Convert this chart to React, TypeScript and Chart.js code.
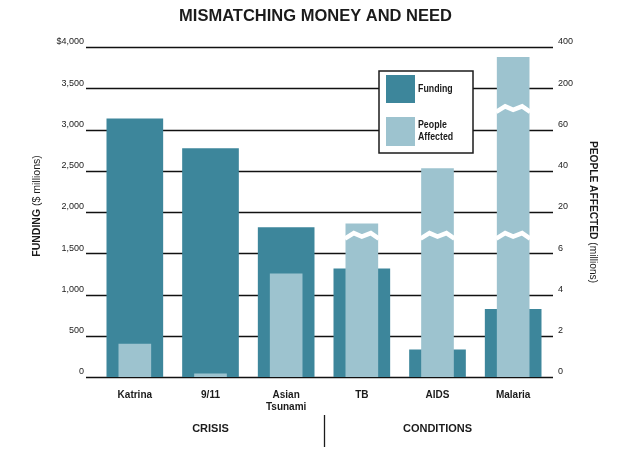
import React, { useEffect, useRef } from "react";
import { Chart, registerables } from "chart.js";

Chart.register(...registerables);

const TITLE = "MISMATCHING MONEY AND NEED";
const CATEGORIES: (string | string[])[] = ["Katrina", "9/11", ["Asian", "Tsunami"], "TB", "AIDS", "Malaria"];
const FUNDING = [3130, 2770, 1810, 1310, 330, 820]; // $ millions
const PEOPLE = [1.6, 0.15, 5, 16, 41, 350]; // millions
const PEOPLE_TICKS = [0, 2, 4, 6, 20, 40, 60, 200, 400]; // broken right axis
const BREAKS: number[][] = [[], [], [], [12], [12], [12, 130]]; // axis-break marks (millions)
const GROUPS = [
  { label: "CRISIS", at: 1 },
  { label: "CONDITIONS", at: 4 },
];
const GROUP_DIVIDER = 2.5;

const DARK = "#3d869b";
const LIGHT = "#9dc3cf";
const INK = "#1b1b1b";
const SANS = "'Liberation Sans', Arial, sans-serif";

// position on the broken (piecewise linear) right axis
function toPos(v: number): number {
  for (let i = 0; i < PEOPLE_TICKS.length - 1; i++) {
    const a = PEOPLE_TICKS[i];
    const b = PEOPLE_TICKS[i + 1];
    if (v <= b) return i + (v - a) / (b - a);
  }
  return PEOPLE_TICKS.length - 1;
}

const decorPlugin = {
  id: "decor",
  beforeDatasetsDraw(chart: any) {
    const { ctx, chartArea, scales } = chart;
    const y = scales.y;
    ctx.save();
    ctx.strokeStyle = "#111";
    ctx.lineWidth = 1.3;
    for (let v = 0; v <= 4000; v += 500) {
      const py = Math.round(y.getPixelForValue(v)) + 0.5;
      ctx.beginPath();
      ctx.moveTo(chartArea.left - 11, py);
      ctx.lineTo(chartArea.right + 2, py);
      ctx.stroke();
    }
    ctx.restore();
  },
  afterDatasetsDraw(chart: any) {
    const { ctx, chartArea, scales } = chart;
    const y2 = scales.y2;
    const x = scales.x;
    const lightMeta = chart.getDatasetMeta(1);
    ctx.save();
    // break marks
    ctx.strokeStyle = "#ffffff";
    ctx.lineWidth = 4.5;
    ctx.lineJoin = "miter";
    BREAKS.forEach((list, i) => {
      const bar = lightMeta.data[i];
      if (!bar) return;
      const w = bar.width;
      const x0 = bar.x - w / 2;
      list.forEach((b) => {
        const py = y2.getPixelForValue(toPos(b));
        ctx.beginPath();
        ctx.moveTo(x0 - 1, py + 3);
        ctx.lineTo(x0 + w * 0.25, py - 2.5);
        ctx.lineTo(x0 + w * 0.5, py + 1);
        ctx.lineTo(x0 + w * 0.78, py - 2.5);
        ctx.lineTo(x0 + w + 1, py + 3);
        ctx.stroke();
      });
    });
    ctx.restore();

    // legend
    ctx.save();
    const lx = 371, ly = 63, lw = 94, lh = 82;
    ctx.fillStyle = "#fff";
    ctx.fillRect(lx, ly, lw, lh);
    ctx.strokeStyle = INK;
    ctx.lineWidth = 1.5;
    ctx.strokeRect(lx, ly, lw, lh);
    ctx.fillStyle = DARK;
    ctx.fillRect(lx + 7, ly + 4, 29, 28);
    ctx.fillStyle = LIGHT;
    ctx.fillRect(lx + 7, ly + 46, 29, 29);
    ctx.fillStyle = INK;
    ctx.font = `bold 11px ${SANS}`;
    ctx.textBaseline = "middle";
    ctx.textAlign = "left";
    const narrowText = (t: string, tx: number, ty: number) => {
      ctx.save();
      ctx.translate(tx, ty);
      ctx.scale(0.8, 1);
      ctx.fillText(t, 0, 0);
      ctx.restore();
    };
    narrowText(chart.data.datasets[0].label, lx + 39, ly + 18);
    narrowText("People", lx + 39, ly + 54);
    narrowText("Affected", lx + 39, ly + 66);
    ctx.restore();

    // axis titles
    ctx.save();
    ctx.fillStyle = INK;
    ctx.textBaseline = "middle";
    const midY = (chartArea.top + chartArea.bottom) / 2;
    const drawMixed = (cx: number, cy: number, rot: number, bold: string, reg: string, size: number) => {
      ctx.save();
      ctx.translate(cx, cy);
      ctx.rotate(rot);
      ctx.font = `bold ${size}px ${SANS}`;
      const w1 = ctx.measureText(bold).width;
      ctx.font = `${size}px ${SANS}`;
      const w2 = ctx.measureText(reg).width;
      const start = -(w1 + w2) / 2;
      ctx.textAlign = "left";
      ctx.font = `bold ${size}px ${SANS}`;
      ctx.fillText(bold, start, 0);
      ctx.font = `${size}px ${SANS}`;
      ctx.fillText(reg, start + w1, 0);
      ctx.restore();
    };
    drawMixed(29, midY - 6, -Math.PI / 2, "FUNDING", " ($ millions)", 10.5);
    drawMixed(585, midY, Math.PI / 2, "PEOPLE AFFECTED", " (millions)", 10.2);

    // group labels & divider
    ctx.font = `bold 11px ${SANS}`;
    ctx.textAlign = "center";
    GROUPS.forEach((g) => {
      ctx.fillText(g.label, x.getPixelForValue(g.at), 421);
    });
    const dx = Math.round(x.getPixelForValue(GROUP_DIVIDER)) + 0.5;
    ctx.strokeStyle = INK;
    ctx.lineWidth = 1.3;
    ctx.beginPath();
    ctx.moveTo(dx, 407);
    ctx.lineTo(dx, 439);
    ctx.stroke();
    ctx.restore();
  },
};

export default function App() {
  const ref = useRef<HTMLCanvasElement | null>(null);
  useEffect(() => {
    if (!ref.current) return;
    const chart = new Chart(ref.current, {
      type: "bar",
      data: {
        labels: CATEGORIES as any,
        datasets: [
          {
            label: "Funding",
            data: FUNDING,
            backgroundColor: DARK,
            yAxisID: "y",
            barThickness: 56,
            grouped: false,
            order: 1,
          } as any,
          {
            label: "People Affected",
            data: PEOPLE.map(toPos),
            backgroundColor: LIGHT,
            yAxisID: "y2",
            barThickness: 32,
            grouped: false,
            order: 0,
          } as any,
        ],
      },
      options: {
        animation: false,
        responsive: true,
        maintainAspectRatio: false,
        layout: { padding: 0 },
        plugins: {
          legend: { display: false },
          tooltip: { enabled: false },
          title: {
            display: true,
            text: TITLE,
            color: INK,
            font: { family: SANS, size: 16.5, weight: "bold", lineHeight: 1 },
            padding: { top: 0, bottom: 22.5 },
          },
        },
        scales: {
          x: {
            offset: true,
            grid: { display: false, drawTicks: false },
            border: { display: false },
            ticks: {
              color: INK,
              font: { family: SANS, size: 10, weight: "bold", lineHeight: 1.2 },
              padding: 12,
              maxRotation: 0,
              autoSkip: false,
            },
            afterFit(scale: any) {
              scale.height = 70;
            },
          },
          y: {
            position: "left",
            min: 0,
            max: 4000,
            grid: { display: false, drawTicks: false },
            border: { display: false },
            ticks: {
              stepSize: 500,
              color: INK,
              font: { family: SANS, size: 9 },
              padding: 13,
              labelOffset: -5,
              callback: (v: any) => (v === 4000 ? "$4,000" : Number(v).toLocaleString("en-US")),
            },
            afterFit(scale: any) {
              scale.width = 89;
            },
          },
          y2: {
            position: "right",
            min: 0,
            max: PEOPLE_TICKS.length - 1,
            grid: { display: false, drawTicks: false },
            border: { display: false },
            ticks: {
              stepSize: 1,
              color: INK,
              font: { family: SANS, size: 9 },
              padding: 7,
              labelOffset: -5,
              callback: (v: any) => String(PEOPLE_TICKS[Math.round(Number(v))] ?? ""),
            },
            afterFit(scale: any) {
              scale.width = 72;
            },
          },
        },
      } as any,
      plugins: [decorPlugin],
    });
    return () => chart.destroy();
  }, []);
  return (
    <div style={{ width: 615, height: 439, position: "relative" }}>
      <canvas ref={ref} />
    </div>
  );
}
